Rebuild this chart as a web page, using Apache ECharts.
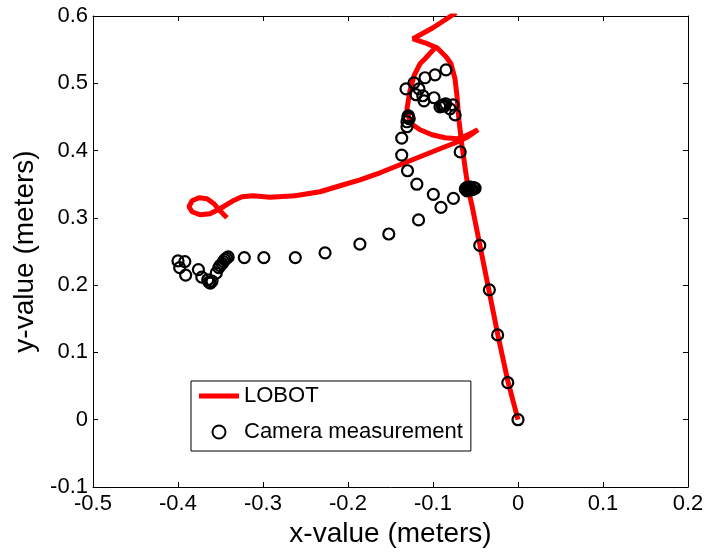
<!DOCTYPE html>
<html>
<head>
<meta charset="utf-8">
<script src="https://cdn.jsdelivr.net/npm/echarts@6/dist/echarts.min.js"></script>
<style>
  html, body { margin: 0; padding: 0; background: #fff; }
  #chart { width: 708px; height: 553px; }
</style>
</head>
<body>
<div id="chart"></div>
<script>
// LOBOT odometry, first stretch: from the origin up to the top of the loop
const lobotOutbound = [
  [0, 0], [-0.0118, 0.0565], [-0.0235, 0.1248], [-0.0341, 0.1917], [-0.0447, 0.2585],
  [-0.0541, 0.318], [-0.0588, 0.3447], [-0.0659, 0.4071], [-0.0694, 0.4443], [-0.0718, 0.4814],
  [-0.0741, 0.5067], [-0.0788, 0.529], [-0.0847, 0.5394], [-0.0953, 0.5527], [-0.1094, 0.5602],
  [-0.1235, 0.5661], [-0.1, 0.5825], [-0.0729, 0.6048]
];
// LOBOT odometry, second stretch: down the left of the loop, then off to the left
const lobotReturn = [
  [-0.0965, 0.5542], [-0.1094, 0.5364], [-0.1153, 0.529], [-0.1224, 0.5111], [-0.1271, 0.4889],
  [-0.1306, 0.4621], [-0.1271, 0.4413], [-0.1153, 0.4309], [-0.1012, 0.4235], [-0.0859, 0.419],
  [-0.0718, 0.4175], [-0.0588, 0.4235], [-0.0471, 0.4309], [-0.0588, 0.4205], [-0.0706, 0.4131],
  [-0.0918, 0.4027], [-0.1153, 0.3908], [-0.1388, 0.3789], [-0.1624, 0.367], [-0.1859, 0.3566],
  [-0.2094, 0.3477], [-0.2329, 0.3388], [-0.2624, 0.3328], [-0.2918, 0.3306], [-0.3118, 0.3328],
  [-0.3247, 0.3314], [-0.3353, 0.3254], [-0.3447, 0.318], [-0.3529, 0.312], [-0.3624, 0.3061],
  [-0.3741, 0.3046], [-0.3835, 0.3091], [-0.3871, 0.3165], [-0.3835, 0.3254], [-0.3753, 0.3299],
  [-0.3659, 0.3284], [-0.3576, 0.321], [-0.3518, 0.312], [-0.3471, 0.3061], [-0.3424, 0.3001]
];
// camera measurements
const cameraPoints = [
  [0, 0], [-0.012, 0.055], [-0.024, 0.126], [-0.0337, 0.193], [-0.045, 0.259],
  [-0.062, 0.343], [-0.059, 0.343], [-0.055, 0.343], [-0.052, 0.345], [-0.06, 0.34], [-0.057, 0.346],
  [-0.0605, 0.345], [-0.0575, 0.341], [-0.0535, 0.342], [-0.0505, 0.344],
  [-0.068, 0.398], [-0.076, 0.329], [-0.0906, 0.3155], [-0.0996, 0.335], [-0.117, 0.297],
  [-0.119, 0.35], [-0.13, 0.37], [-0.1368, 0.3933], [-0.1368, 0.4186],
  [-0.1306, 0.4354], [-0.1306, 0.4428], [-0.128, 0.4473], [-0.129, 0.4517], [-0.1295, 0.4495],
  [-0.1318, 0.4918], [-0.1224, 0.5007], [-0.1165, 0.4918], [-0.1094, 0.5082], [-0.0976, 0.5126],
  [-0.0847, 0.52], [-0.12, 0.483], [-0.112, 0.4815], [-0.1106, 0.474], [-0.0988, 0.4785],
  [-0.0918, 0.465], [-0.088, 0.468], [-0.085, 0.4695], [-0.08, 0.462], [-0.0765, 0.468],
  [-0.0895, 0.4665], [-0.0865, 0.466],
  [-0.074, 0.453],
  [-0.152, 0.276], [-0.186, 0.261], [-0.227, 0.248], [-0.262, 0.241], [-0.299, 0.241],
  [-0.322, 0.241], [-0.341, 0.242], [-0.345, 0.238], [-0.348, 0.232], [-0.352, 0.226],
  [-0.355, 0.218], [-0.36, 0.206], [-0.362, 0.203], [-0.365, 0.208], [-0.372, 0.212],
  [-0.343, 0.24], [-0.3465, 0.235], [-0.3505, 0.229], [-0.3635, 0.2045],
  [-0.376, 0.223], [-0.391, 0.215], [-0.398, 0.226], [-0.392, 0.235], [-0.4, 0.236]
];

const xRange = { min: -0.5, max: 0.2, interval: 0.1 };
const yRange = { min: -0.1, max: 0.6, interval: 0.1 };

const font = "'Liberation Sans', Arial, sans-serif";
const black = '#000';

const baseAxis = {
  axisLine: { show: true, onZero: false, lineStyle: { color: black, width: 1 } },
  axisTick: { show: true, inside: true, length: 5, lineStyle: { color: black } },
  splitLine: { show: false }
};

const chart = echarts.init(document.getElementById('chart'));
chart.setOption({
  animation: false,
  backgroundColor: '#fff',
  grid: { left: 93, right: 20, top: 16, bottom: 66 },
  legend: {
    orient: 'vertical',
    left: 191,
    top: 381,
    padding: [4, 8, 8, 8],
    itemWidth: 40,
    itemHeight: 13,
    itemGap: 14,
    borderColor: black,
    borderWidth: 1,
    backgroundColor: '#fff',
    textStyle: { fontFamily: font, fontSize: 22, color: black, lineHeight: 22 },
    data: [
      { name: 'LOBOT', icon: 'path://M0,0L40,0L40,5L0,5Z' },
      { name: 'Camera measurement' }
    ]
  },
  xAxis: [
    Object.assign({}, baseAxis, xRange, {
      type: 'value',
      position: 'bottom',
      name: 'x-value (meters)',
      nameLocation: 'middle',
      nameGap: 27,
      nameTextStyle: { fontFamily: font, fontSize: 28, color: black },
      axisLabel: { fontFamily: font, fontSize: 22, color: black, margin: 6 }
    }),
    Object.assign({}, baseAxis, xRange, {
      type: 'value',
      position: 'top',
      axisLabel: { show: false }
    })
  ],
  yAxis: [
    Object.assign({}, baseAxis, yRange, {
      type: 'value',
      position: 'left',
      name: 'y-value (meters)',
      nameLocation: 'middle',
      nameGap: 50,
      nameTextStyle: { fontFamily: font, fontSize: 28, color: black },
      axisLabel: { fontFamily: font, fontSize: 22, color: black, margin: 5 }
    }),
    Object.assign({}, baseAxis, yRange, {
      type: 'value',
      position: 'right',
      axisLabel: { show: false }
    })
  ],
  series: [
    {
      name: 'LOBOT', type: 'line', data: lobotOutbound,
      symbol: 'none', showSymbol: false, smooth: false, clip: true, z: 2,
      lineStyle: { color: '#ff0000', width: 5 }, itemStyle: { color: '#ff0000' }
    },
    {
      name: 'LOBOT', type: 'line', data: lobotReturn,
      symbol: 'none', showSymbol: false, smooth: false, clip: true, z: 2,
      lineStyle: { color: '#ff0000', width: 5 }, itemStyle: { color: '#ff0000' }
    },
    {
      name: 'Camera measurement', type: 'scatter', data: cameraPoints,
      symbol: 'circle', symbolSize: 11, z: 3,
      itemStyle: { color: 'rgba(0,0,0,0)', borderColor: black, borderWidth: 2.2, opacity: 1 }
    }
  ]
});
</script>
</body>
</html>
